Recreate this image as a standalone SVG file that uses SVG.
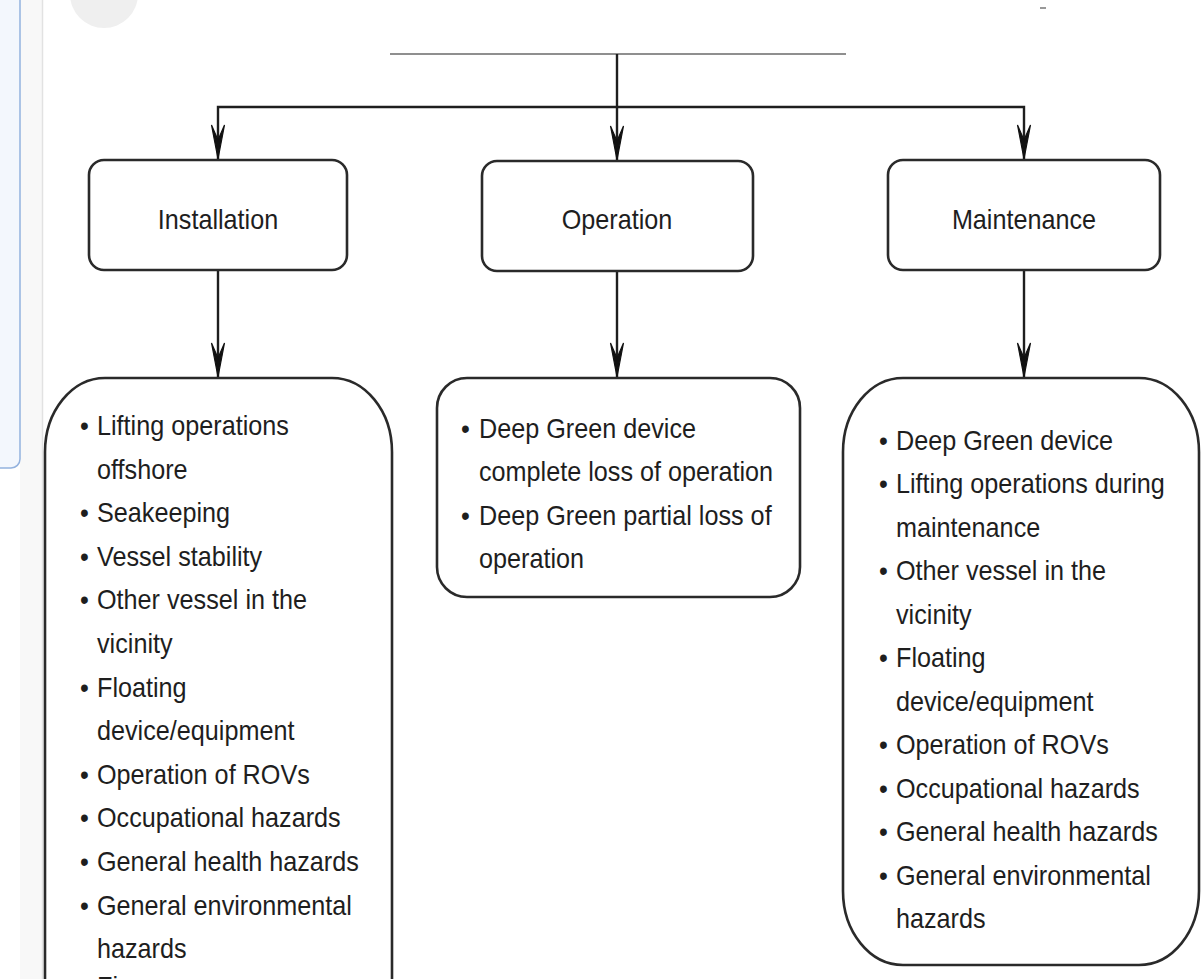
<svg xmlns="http://www.w3.org/2000/svg" width="1201" height="979" viewBox="0 0 1201 979">
<style>
.box{fill:#fff;stroke:#2a2a2a;stroke-width:2.6}
.conn{fill:none;stroke:#1e1e1e;stroke-width:2.4}
.lbl{font-family:"Liberation Sans",Arial,sans-serif;font-size:28px;fill:#1e1e1e;text-anchor:middle}
.li{font-family:"Liberation Sans",Arial,sans-serif;font-size:28px;fill:#1e1e1e}
.bul{text-anchor:middle}
.ah{fill:#111;stroke:#111;stroke-width:1.2;stroke-linejoin:miter}
</style>
<rect width="1201" height="979" fill="#fff"/>
<!-- screenshot artifacts -->
<rect x="20" y="0" width="23" height="979" fill="#f8f8f8"/>
<line x1="42.5" y1="0" x2="42.5" y2="979" stroke="#e2e2e2" stroke-width="1.5"/>
<rect x="-12" y="-12" width="32" height="480" rx="9" fill="#f3f7fd" stroke="#93b2de" stroke-width="1.5"/>
<circle cx="104" cy="-6" r="34" fill="#efefef"/>
<line x1="1040" y1="8" x2="1046" y2="8" stroke="#777" stroke-width="1.5"/>

<g id="connectors">
<line x1="390" y1="54" x2="846" y2="54" stroke="#6a6a6a" stroke-width="1.6"/>
<path class="conn" d="M617,54 V160"/>
<path class="conn" d="M218,160 V107 H1024 V160"/>
<path class="conn" d="M218,270 V378"/>
<path class="conn" d="M617,271 V378"/>
<path class="conn" d="M1024,270 V378"/>
<path class="ah" d="M218,159 l-6.5,-34 l6.5,15 l6.5,-15 Z"/>
<path class="ah" d="M617,160 l-6.5,-34 l6.5,15 l6.5,-15 Z"/>
<path class="ah" d="M1024,159 l-6.5,-34 l6.5,15 l6.5,-15 Z"/>
<path class="ah" d="M218,377 l-6.5,-34 l6.5,15 l6.5,-15 Z"/>
<path class="ah" d="M617,377 l-6.5,-34 l6.5,15 l6.5,-15 Z"/>
<path class="ah" d="M1024,377 l-6.5,-34 l6.5,15 l6.5,-15 Z"/>
</g>

<g id="installation">
<rect class="box" x="89" y="160" width="258" height="110" rx="15"/>
<g transform="matrix(0.9 0 0 1 218 0)"><text class="lbl" x="0" y="229">Installation</text></g>
</g>
<g id="operation">
<rect class="box" x="482" y="161" width="271" height="110" rx="15"/>
<g transform="matrix(0.9 0 0 1 617 0)"><text class="lbl" x="0" y="229">Operation</text></g>
</g>
<g id="maintenance">
<rect class="box" x="888" y="160" width="272" height="110" rx="15"/>
<g transform="matrix(0.9 0 0 1 1024 0)"><text class="lbl" x="0" y="229">Maintenance</text></g>
</g>

<g id="installation-hazards">
<path class="box" d="M45,995 V452 A60,74 0 0 1 105,378 H332 A60,74 0 0 1 392,452 V995"/>
<g transform="matrix(0.9 0 0 1 97 0)" class="li">
<text class="bul" x="-14" y="435">•</text><text x="0" y="435">Lifting operations</text>
<text x="0" y="478.6">offshore</text>
<text class="bul" x="-14" y="522.2">•</text><text x="0" y="522.2">Seakeeping</text>
<text class="bul" x="-14" y="565.8">•</text><text x="0" y="565.8">Vessel stability</text>
<text class="bul" x="-14" y="609.4">•</text><text x="0" y="609.4">Other vessel in the</text>
<text x="0" y="653">vicinity</text>
<text class="bul" x="-14" y="696.6">•</text><text x="0" y="696.6">Floating</text>
<text x="0" y="740.2">device/equipment</text>
<text class="bul" x="-14" y="783.8">•</text><text x="0" y="783.8">Operation of ROVs</text>
<text class="bul" x="-14" y="827.4">•</text><text x="0" y="827.4">Occupational hazards</text>
<text class="bul" x="-14" y="871">•</text><text x="0" y="871">General health hazards</text>
<text class="bul" x="-14" y="914.6">•</text><text x="0" y="914.6">General environmental</text>
<text x="0" y="958.2">hazards</text>
<text x="0" y="996">Fi</text>
</g>
</g>

<g id="operation-hazards">
<rect class="box" x="437" y="378" width="363" height="219" rx="30"/>
<g transform="matrix(0.9 0 0 1 479 0)" class="li">
<text class="bul" x="-15" y="438">•</text><text x="0" y="438">Deep Green device</text>
<text x="0" y="481.5">complete loss of operation</text>
<text class="bul" x="-15" y="525">•</text><text x="0" y="525">Deep Green partial loss of</text>
<text x="0" y="568.5">operation</text>
</g>
</g>

<g id="maintenance-hazards">
<path class="box" d="M843,452 A60,74 0 0 1 903,378 H1139 A60,74 0 0 1 1199,452 V891 A60,74 0 0 1 1139,965 H903 A60,74 0 0 1 843,891 Z"/>
<g transform="matrix(0.9 0 0 1 896 0)" class="li">
<text class="bul" x="-14" y="450">•</text><text x="0" y="450">Deep Green device</text>
<text class="bul" x="-14" y="493.5">•</text><text x="0" y="493.5">Lifting operations during</text>
<text x="0" y="537">maintenance</text>
<text class="bul" x="-14" y="580.5">•</text><text x="0" y="580.5">Other vessel in the</text>
<text x="0" y="624">vicinity</text>
<text class="bul" x="-14" y="667.5">•</text><text x="0" y="667.5">Floating</text>
<text x="0" y="711">device/equipment</text>
<text class="bul" x="-14" y="754.5">•</text><text x="0" y="754.5">Operation of ROVs</text>
<text class="bul" x="-14" y="798">•</text><text x="0" y="798">Occupational hazards</text>
<text class="bul" x="-14" y="841.5">•</text><text x="0" y="841.5">General health hazards</text>
<text class="bul" x="-14" y="885">•</text><text x="0" y="885">General environmental</text>
<text x="0" y="928.5">hazards</text>
</g>
</g>
</svg>
